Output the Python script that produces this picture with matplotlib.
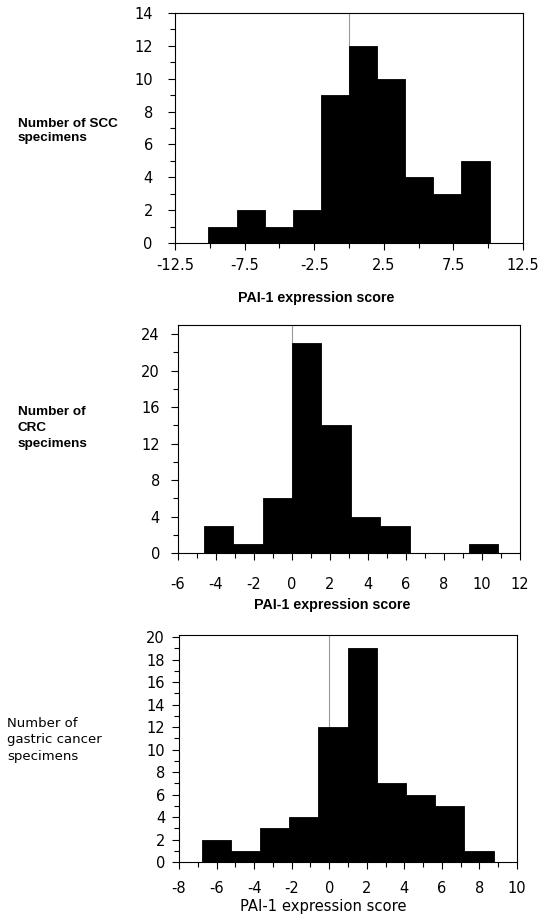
import matplotlib.pyplot as plt
import numpy as np
from matplotlib.ticker import MultipleLocator

# SCC panel
scc_edges = np.linspace(-10.1, 10.1, 11)
scc_counts = [1, 2, 1, 2, 9, 12, 10, 4, 3, 5]

# CRC panel
crc_edges = np.linspace(-4.65, 10.85, 11)
crc_counts = [3, 1, 6, 23, 14, 4, 3, 0, 0, 1]

# gastric cancer panel
gas_edges = np.linspace(-6.8, 8.75, 11)
gas_counts = [2, 1, 3, 4, 12, 19, 7, 6, 5, 1]

plt.rcParams["axes.unicode_minus"] = False

W, H = 539, 914
fig = plt.figure(figsize=(W / 100, H / 100), dpi=100)


def frac(left, top, right, bottom):
    return [left / W, 1 - bottom / H, (right - left) / W, (bottom - top) / H]


def panel(rect, edges, counts, xlim, xmaj, xmin, ylim, ymaj, ymin, xpad, ypad):
    ax = fig.add_axes(rect)
    ax.axvline(0, color="#999999", lw=0.8, zorder=0)
    ax.bar(edges[:-1], counts, width=np.diff(edges), align="edge",
           color="black", edgecolor="black", linewidth=0.6, zorder=2)
    ax.set_xlim(*xlim)
    ax.set_ylim(*ylim)
    ax.xaxis.set_major_locator(MultipleLocator(xmaj))
    ax.xaxis.set_minor_locator(MultipleLocator(xmin))
    ax.yaxis.set_major_locator(MultipleLocator(ymaj))
    ax.yaxis.set_minor_locator(MultipleLocator(ymin))
    ax.tick_params(which="major", direction="out", length=5, width=0.8,
                   labelsize=10.5)
    ax.tick_params(which="minor", direction="out", length=3.5, width=0.8)
    ax.tick_params(axis="x", pad=xpad)
    ax.tick_params(axis="y", pad=ypad)
    for sp in ax.spines.values():
        sp.set_linewidth(0.8)
    return ax


ax1 = panel(frac(175, 13, 523, 243), scc_edges, scc_counts,
            (-12.5, 12.5), 5, 2.5, (0, 14), 2, 1, 6, 11)
ax1.set_xticks(np.arange(-12.5, 12.6, 5))

ax2 = panel(frac(178, 325, 520, 553), crc_edges, crc_counts,
            (-6, 12), 2, 1, (0, 25), 4, 2, 12, 8)

ax3 = panel(frac(179, 635, 517, 862), gas_edges, gas_counts,
            (-8, 10), 2, 1, (0, 20.2), 2, 1, 9, 5)

xbold = dict(family="Liberation Sans", fontweight="bold", fontsize=10.3)
ybold = dict(family="Liberation Sans", fontweight="bold", fontsize=9.7)
xreg = dict(family="DejaVu Sans", fontsize=10.6)
yreg = dict(family="DejaVu Sans", fontsize=9.5)

fig.text(316 / W, 1 - 298 / H, "PAI-1 expression score", ha="center", va="center", **xbold)
fig.text(332 / W, 1 - 605 / H, "PAI-1 expression score", ha="center", va="center", **xbold)
fig.text(323 / W, 1 - 906 / H, "PAI-1 expression score", ha="center", va="center", **xreg)

fig.text(18 / W, 1 - 131 / H, "Number of SCC\nspecimens", ha="left", va="center",
         linespacing=1.3, **ybold)
fig.text(18 / W, 1 - 428 / H, "Number of\nCRC\nspecimens", ha="left", va="center",
         linespacing=1.4, **ybold)
fig.text(7 / W, 1 - 740 / H, "Number of\ngastric cancer\nspecimens", ha="left", va="center",
         linespacing=1.35, **yreg)

plt.savefig("out.png", dpi=100)
